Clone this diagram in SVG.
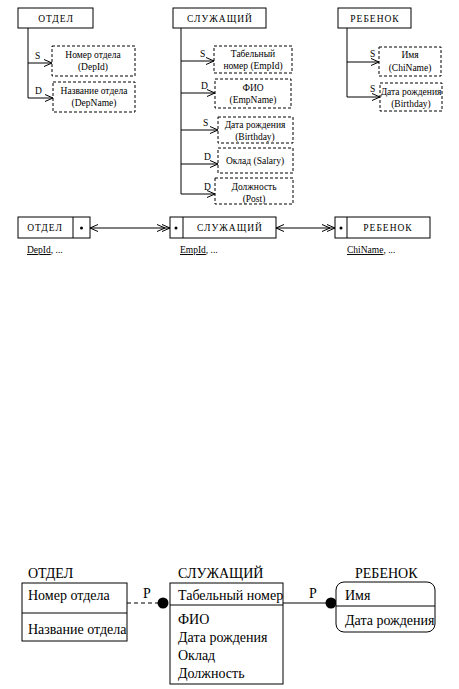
<svg xmlns="http://www.w3.org/2000/svg" width="459" height="689" viewBox="0 0 459 689">
<style>
.box{fill:#fff;stroke:#000;stroke-width:1}
.dash{fill:#fff;stroke:#000;stroke-width:1;stroke-dasharray:3,2}
.ln{fill:none;stroke:#000;stroke-width:1}
text{font-family:'Liberation Serif','Times New Roman','DejaVu Serif',serif;fill:#000}
.t{font-size:9.5px;text-anchor:middle}
.l{font-size:9.5px}
.h{font-size:9.5px;letter-spacing:1px;text-anchor:middle}
.b{font-size:14px}
.u{text-decoration:underline}
</style>
<defs>
<marker id="a1" markerUnits="userSpaceOnUse" markerWidth="10" markerHeight="8" refX="8" refY="4" orient="auto-start-reverse"><path d="M0,0.5 L8,4 L0,7.5" fill="none" stroke="#000"/></marker>
<marker id="a2" markerUnits="userSpaceOnUse" markerWidth="14" markerHeight="8" refX="13" refY="4" orient="auto"><path d="M0,0.5 L8,4 L0,7.5 M5,0.5 L13,4 L5,7.5" fill="none" stroke="#000"/></marker>
</defs>

<!-- connectors -->
<g id="connectors">
  <path class="ln" d="M28,28 V98 M181,28 V194 M347,28 V97"/>
  <path class="ln" d="M28,63 H52" marker-end="url(#a1)"/>
  <path class="ln" d="M28,98 H53" marker-end="url(#a1)"/>
  <path class="ln" d="M181,61 H214" marker-end="url(#a1)"/>
  <path class="ln" d="M181,93 H215" marker-end="url(#a1)"/>
  <path class="ln" d="M181,130 H218" marker-end="url(#a1)"/>
  <path class="ln" d="M181,164 H218" marker-end="url(#a1)"/>
  <path class="ln" d="M181,194 H215" marker-end="url(#a1)"/>
  <path class="ln" d="M347,62 H379" marker-end="url(#a1)"/>
  <path class="ln" d="M347,97 H380" marker-end="url(#a1)"/>
  <text class="l" x="35" y="59" font-family="Liberation Serif, serif">S</text>
  <text class="l" x="35" y="94" font-family="Liberation Serif, serif">D</text>
  <text class="l" x="200" y="57" font-family="Liberation Serif, serif">S</text>
  <text class="l" x="201" y="89" font-family="Liberation Serif, serif">D</text>
  <text class="l" x="203" y="126" font-family="Liberation Serif, serif">S</text>
  <text class="l" x="204" y="160" font-family="Liberation Serif, serif">D</text>
  <text class="l" x="204" y="190" font-family="Liberation Serif, serif">D</text>
  <text class="l" x="370" y="57" font-family="Liberation Serif, serif">S</text>
  <text class="l" x="370" y="92" font-family="Liberation Serif, serif">S</text>

  <path class="ln" d="M90,228 H170" marker-start="url(#a1)" marker-end="url(#a2)"/>
  <path class="ln" d="M276,228 H335" marker-start="url(#a1)" marker-end="url(#a2)"/>

  <path class="ln" d="M127,603 H158" stroke-dasharray="4,3"/>
  <circle cx="163" cy="603" r="5.5" fill="#000"/>
  <text class="b" x="143" y="598">P</text>
  <path class="ln" d="M283,603 H326"/>
  <circle cx="331" cy="603" r="5.5" fill="#000"/>
  <text class="b" x="309" y="598">P</text>
</g>

<!-- top section -->
<g id="otdel-top">
  <rect class="box" x="18" y="8" width="75" height="20"/>
  <text class="h" x="56" y="22">ОТДЕЛ</text>
</g>
<g id="depid">
  <rect class="dash" x="52" y="46" width="83" height="30"/>
  <text class="t" x="93" y="58">Номер отдела</text>
  <text class="t" x="93" y="70">(DepId)</text>
</g>
<g id="depname">
  <rect class="dash" x="53" y="82" width="82" height="30"/>
  <text class="t" x="94" y="94">Название отдела</text>
  <text class="t" x="94" y="106">(DepName)</text>
</g>

<g id="sluzh-top">
  <rect class="box" x="173" y="8" width="93" height="20"/>
  <text class="h" x="220" y="22">СЛУЖАЩИЙ</text>
</g>
<g id="empid">
  <rect class="dash" x="214" y="46" width="78" height="27"/>
  <text class="t" x="253" y="57">Табельный</text>
  <text class="t" x="253" y="69">номер (EmpId)</text>
</g>
<g id="empname">
  <rect class="dash" x="215" y="79" width="76" height="29"/>
  <text class="t" x="253" y="91">ФИО</text>
  <text class="t" x="253" y="103">(EmpName)</text>
</g>
<g id="birthday">
  <rect class="dash" x="218" y="117" width="75" height="26"/>
  <text class="t" x="255" y="128">Дата рождения</text>
  <text class="t" x="255" y="140">(Birthday)</text>
</g>
<g id="salary">
  <rect class="dash" x="218" y="148" width="75" height="25"/>
  <text class="t" x="255" y="164">Оклад (Salary)</text>
</g>
<g id="post">
  <rect class="dash" x="215" y="178" width="78" height="26"/>
  <text class="t" x="254" y="190">Должность</text>
  <text class="t" x="254" y="202">(Post)</text>
</g>

<g id="reb-top">
  <rect class="box" x="338" y="8" width="73" height="20"/>
  <text class="h" x="375" y="22">РЕБЕНОК</text>
</g>
<g id="chiname">
  <rect class="dash" x="379" y="47" width="62" height="29"/>
  <text class="t" x="410" y="58">Имя</text>
  <text class="t" x="410" y="71">(ChiName)</text>
</g>
<g id="chibirth">
  <rect class="dash" x="380" y="83" width="62" height="28"/>
  <text class="t" x="411" y="95">Дата рождения</text>
  <text class="t" x="411" y="107">(Birthday)</text>
</g>

<!-- middle section -->
<g id="otdel-mid">
  <rect class="box" x="18" y="217" width="72" height="21"/>
  <path class="ln" d="M73,217 V238"/>
  <circle cx="81.5" cy="228" r="1.5" fill="#000"/>
  <text class="h" x="45" y="231">ОТДЕЛ</text>
  <text class="l" x="27" y="253"><tspan class="u">DepId</tspan>, ...</text>
</g>
<g id="sluzh-mid">
  <rect class="box" x="170" y="217" width="106" height="21"/>
  <path class="ln" d="M183,217 V238"/>
  <circle cx="176" cy="228" r="1.5" fill="#000"/>
  <text class="h" x="230" y="231">СЛУЖАЩИЙ</text>
  <text class="l" x="180" y="253"><tspan class="u">EmpId</tspan>, ...</text>
</g>
<g id="reb-mid">
  <rect class="box" x="335" y="217" width="95" height="21"/>
  <path class="ln" d="M347,217 V238"/>
  <circle cx="341" cy="228" r="1.5" fill="#000"/>
  <text class="h" x="388" y="231">РЕБЕНОК</text>
  <text class="l" x="347" y="253"><tspan class="u">ChiName</tspan>, ...</text>
</g>

<!-- bottom section -->
<g id="otdel-er">
  <text class="b" x="28" y="578">ОТДЕЛ</text>
  <rect class="box" x="22" y="583" width="105" height="58"/>
  <path class="ln" d="M22,613 H127"/>
  <text class="b" x="28" y="600">Номер отдела</text>
  <text class="b" x="28" y="634">Название отдела</text>
</g>
<g id="sluzh-er">
  <text class="b" x="178" y="578">СЛУЖАЩИЙ</text>
  <rect class="box" x="170" y="583" width="113" height="101"/>
  <path class="ln" d="M170,605 H283"/>
  <text class="b" x="178" y="600">Табельный номер</text>
  <text class="b" x="178" y="624">ФИО</text>
  <text class="b" x="178" y="642">Дата рождения</text>
  <text class="b" x="178" y="660">Оклад</text>
  <text class="b" x="178" y="678">Должность</text>
</g>
<g id="reb-er">
  <text class="b" x="355" y="578">РЕБЕНОК</text>
  <rect class="box" x="336" y="582" width="99" height="50" rx="8" ry="8"/>
  <path class="ln" d="M336,606 H435"/>
  <text class="b" x="345" y="600">Имя</text>
  <text class="b" x="345" y="625">Дата рождения</text>
</g>
</svg>
